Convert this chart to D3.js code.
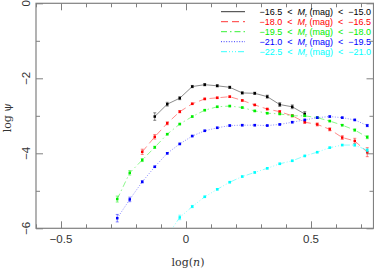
<!DOCTYPE html>
<html>
<head>
<meta charset="utf-8">
<script src="https://cdn.jsdelivr.net/npm/d3@7"></script>
<style>
  body { margin: 0; background: #fff; }
  svg { display: block; }
</style>
</head>
<body>
<script>
// bin centres in log(n)
const logN = [-0.275, -0.225, -0.175, -0.125, -0.075, -0.025, 0.025, 0.075, 0.125, 0.175, 0.225,
              0.275, 0.325, 0.375, 0.425, 0.475, 0.525, 0.575, 0.625, 0.675, 0.725];

const black = [null, null, null, -3.02, -2.69, -2.53, -2.22, -2.17, -2.20, -2.24, -2.39,
               -2.40, -2.49, -2.70, -2.76, -2.95, null, null, null, null, null];
const red   = [null, null, -3.96, -3.56, -3.20, -2.89, -2.68, -2.55, -2.52, -2.49, -2.59,
               -2.71, -2.82, -2.89, -3.00, -3.17, -3.23, -3.36, -3.58, -3.67, -3.97];
const green = [-5.22, -4.52, -4.18, -3.84, -3.49, -3.22, -3.02, -2.85, -2.76, -2.74, -2.78,
               -2.87, -2.93, -2.95, -3.00, -3.00, -3.05, -3.14, -3.25, -3.38, -3.57];
const blue  = [-5.73, -5.23, -4.76, -4.36, -4.00, -3.75, -3.54, -3.40, -3.32, -3.26, -3.25,
               -3.25, -3.26, -3.23, -3.17, -3.11, -3.05, -3.02, -3.05, -3.11, -3.26];
const cyan  = [null, null, null, null, -6.20, -5.71, -5.42, -5.16, -4.96, -4.77, -4.62,
               -4.51, -4.40, -4.28, -4.20, -4.07, -3.97, -3.85, -3.78, -3.78, -3.92];

// error bars (log units)
const blackErr = [0, 0, 0, 0.10, 0.05, 0.04, 0.03, 0.03, 0.03, 0.03, 0.03, 0.03, 0.04, 0.05, 0.05, 0.06, 0, 0, 0, 0, 0];
const redErr   = [0, 0, 0.07, 0.06, 0.04, 0.03, 0.02, 0.02, 0.02, 0.02, 0.02, 0.02, 0.02, 0.03, 0.03, 0.03, 0.04, 0.04, 0.05, 0.07, 0.12];
const greenErr = [0.08, 0.06, 0.04, 0.03, 0.02, 0.02, 0.02, 0.02, 0.02, 0.02, 0.02, 0.02, 0.02, 0.02, 0.02, 0.02, 0.02, 0.02, 0.02, 0.03, 0.04];
const blueErr  = [0.10, 0.06, 0.03, 0.02, 0.02, 0.02, 0.02, 0.02, 0.02, 0.02, 0.02, 0.02, 0.02, 0.02, 0.02, 0.02, 0.02, 0.02, 0.02, 0.02, 0.03];
const cyanErr  = [0, 0, 0, 0, 0, 0.06, 0.03, 0.02, 0.02, 0.02, 0.02, 0.02, 0.02, 0.02, 0.02, 0.02, 0.02, 0.02, 0.02, 0.03, 0.04];

const legendLo = ['\u221216.5', '\u221218.0', '\u221219.5', '\u221221.0', '\u221222.5'];
const legendHi = ['\u221215.0', '\u221216.5', '\u221218.0', '\u221219.5', '\u221221.0'];

const xMajor = [-0.5, 0, 0.5];
const xMajorLabels = ['\u22120.5', '0', '0.5'];
const yMajor = [0, -2, -4, -6];
const yMajorLabels = ['0', '\u22122', '\u22124', '\u22126'];

const series = [
  { vals: black, err: blackErr, color: '#000000', dash: null },
  { vals: red,   err: redErr,   color: '#ff0000', dash: '7,4' },
  { vals: green, err: greenErr, color: '#00ee00', dash: '6,3,1.5,3' },
  { vals: blue,  err: blueErr,  color: '#0000ff', dash: '1,1.6' },
  { vals: cyan,  err: cyanErr,  color: '#00ffff', dash: '6,2,1,2,1,2,1,2' }
];

const width = 374, height = 272;
const x = d3.scaleLinear().domain([-0.6, 0.75]).range([36, 373.5]);
const y = d3.scaleLinear().domain([0, -6]).range([3.3, 228.3]);

const svg = d3.select('body').append('svg')
  .attr('width', width)
  .attr('height', height);

svg.append('clipPath').attr('id', 'plotclip')
  .append('rect')
  .attr('x', x(-0.6)).attr('y', y(0))
  .attr('width', x(0.75) - x(-0.6)).attr('height', y(-6) - y(0));

const axisColor = '#808080';

// minor + major ticks, all four sides, pointing in
function tickAxis(axisFn, scale, ticks, size, tx, ty) {
  const g = svg.append('g')
    .attr('transform', `translate(${tx},${ty})`)
    .call(axisFn(scale).tickValues(ticks).tickSizeInner(size).tickSizeOuter(0).tickFormat(''));
  g.select('.domain').remove();
  g.selectAll('line').attr('stroke', axisColor).attr('stroke-width', 1);
  return g;
}

const xMinor = d3.range(-6, 8).map(i => i / 10).filter(v => !xMajor.some(m => Math.abs(m - v) < 1e-9));
const yMinor = [-1, -3, -5];
const bottomY = y(-6), topY = y(0), leftX = x(-0.6), rightX = x(0.75);

tickAxis(d3.axisBottom, x, xMinor, -4, 0, bottomY);
tickAxis(d3.axisBottom, x, xMajor, -7, 0, bottomY);
tickAxis(d3.axisTop, x, xMinor, -4, 0, topY);
tickAxis(d3.axisTop, x, xMajor, -7, 0, topY);
tickAxis(d3.axisLeft, y, yMinor, -4, leftX, 0);
tickAxis(d3.axisLeft, y, yMajor, -7, leftX, 0);
tickAxis(d3.axisRight, y, yMinor, -4, rightX, 0);
tickAxis(d3.axisRight, y, yMajor, -7, rightX, 0);

// frame
svg.append('rect')
  .attr('x', leftX).attr('y', topY)
  .attr('width', rightX - leftX).attr('height', bottomY - topY)
  .attr('fill', 'none').attr('stroke', axisColor).attr('stroke-width', 1.2);

// tick labels
svg.append('g').selectAll('text')
  .data(xMajor)
  .enter().append('text')
  .attr('x', d => x(d))
  .attr('y', 243)
  .attr('text-anchor', 'middle')
  .attr('font-family', 'Liberation Sans, Arial, sans-serif')
  .attr('font-size', 11.5)
  .attr('fill', '#333')
  .text((d, i) => xMajorLabels[i]);

svg.append('g').selectAll('text')
  .data(yMajor)
  .enter().append('text')
  .attr('transform', d => `translate(30,${y(d)}) rotate(-90)`)
  .attr('text-anchor', 'middle')
  .attr('font-family', 'Liberation Sans, Arial, sans-serif')
  .attr('font-size', 11.5)
  .attr('fill', '#333')
  .text((d, i) => yMajorLabels[i]);

// axis titles
const xt = svg.append('text')
  .attr('x', 188).attr('y', 266)
  .attr('text-anchor', 'middle')
  .attr('font-family', 'DejaVu Serif, serif')
  .attr('font-size', 11)
  .attr('fill', '#333');
xt.append('tspan').text('log(');
xt.append('tspan').attr('font-style', 'italic').text('n');
xt.append('tspan').text(')');

svg.append('text')
  .attr('transform', `translate(11,${y(-3.05)}) rotate(-90)`)
  .attr('text-anchor', 'middle')
  .attr('font-family', 'DejaVu Serif, serif')
  .attr('font-size', 11)
  .attr('fill', '#333')
  .text('log \u03c8');

// data
const plot = svg.append('g').attr('clip-path', 'url(#plotclip)');

series.forEach(s => {
  const pts = logN.map((v, i) => ({ x: v, y: s.vals[i], e: s.err[i] })).filter(d => d.y !== null);
  const line = d3.line().x(d => x(d.x)).y(d => y(d.y));

  plot.append('path')
    .datum(pts)
    .attr('d', line)
    .attr('fill', 'none')
    .attr('stroke', s.color)
    .attr('stroke-width', 0.7)
    .attr('stroke-opacity', 0.65)
    .attr('stroke-dasharray', s.dash);

  const eb = plot.append('g').attr('stroke', s.color).attr('stroke-width', 0.8).attr('stroke-opacity', 0.6);
  pts.filter(d => d.e > 0).forEach(d => {
    const cx = x(d.x), y1 = y(d.y + d.e), y2 = y(d.y - d.e);
    eb.append('line').attr('x1', cx).attr('x2', cx).attr('y1', y1).attr('y2', y2);
    eb.append('line').attr('x1', cx - 1.5).attr('x2', cx + 1.5).attr('y1', y1).attr('y2', y1);
    eb.append('line').attr('x1', cx - 1.5).attr('x2', cx + 1.5).attr('y1', y2).attr('y2', y2);
  });

  plot.append('g').selectAll('rect')
    .data(pts)
    .enter().append('rect')
    .attr('x', d => x(d.x) - 1.25)
    .attr('y', d => y(d.y) - 1.25)
    .attr('width', 2.5)
    .attr('height', 2.5)
    .attr('fill', s.color);
});

// legend
const legend = svg.append('g');
series.forEach((s, i) => {
  const ly = 11.7 + i * 10;
  legend.append('line')
    .attr('x1', 221).attr('x2', 245)
    .attr('y1', ly).attr('y2', ly)
    .attr('stroke', s.color)
    .attr('stroke-width', 0.8)
    .attr('stroke-dasharray', s.dash);
  const t = legend.append('text')
    .attr('x', 371).attr('y', ly + 3.3)
    .attr('text-anchor', 'end')
    .attr('font-family', 'Liberation Sans, Arial, sans-serif')
    .attr('font-size', 9)
    .attr('fill', s.color)
    .attr('xml:space', 'preserve');
  t.append('tspan').text(legendLo[i] + '  <  ');
  t.append('tspan').attr('font-style', 'italic').text('M');
  t.append('tspan').attr('font-size', 6).attr('dy', 1.5).text('r');
  t.append('tspan').attr('dy', -1.5).text(' (mag)  <  ' + legendHi[i]);
});
</script>
</body>
</html>
